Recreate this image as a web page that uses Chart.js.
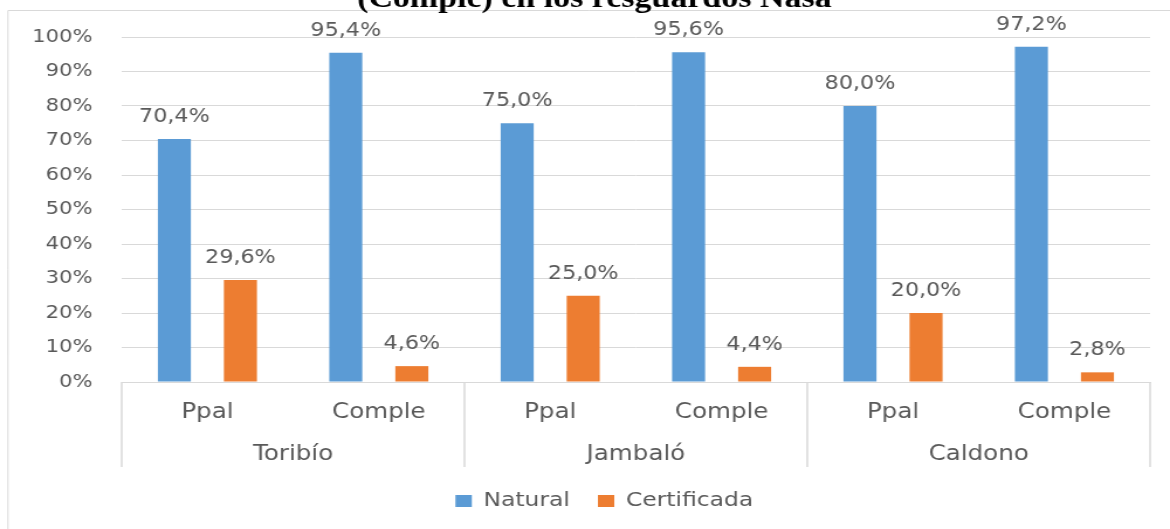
<!DOCTYPE html>
<html>
<head>
<meta charset="utf-8">
<script src="https://cdn.jsdelivr.net/npm/chart.js@4.4.0/dist/chart.umd.min.js"></script>
<style>
  html, body { margin: 0; padding: 0; background: #fff; overflow: hidden; }
  /* the source picture is stretched sideways, so the canvas is too */
  #chart { display: block; transform: scaleX(1.17); transform-origin: 0 0; }
</style>
</head>
<body>
<canvas id="chart" width="1000" height="529"></canvas>
<script>
// --- data ---
const subLabels = ['Ppal', 'Comple', 'Ppal', 'Comple', 'Ppal', 'Comple'];
const groupLabels = ['Toribío', 'Jambaló', 'Caldono'];
const naturalValues = [70.4, 95.4, 75.0, 95.6, 80.0, 97.2];
const certificadaValues = [29.6, 4.6, 25.0, 4.4, 20.0, 2.8];
const titleText = '(Comple) en los resguardos Nasa';

const TEXT = '#595959';
const LINE = '#d9d9d9';
const FONT = '"DejaVu Sans", Verdana, sans-serif';

const fmt = (v) => v.toFixed(1).replace('.', ',') + '%';

// draws frame, clipped title, bar values and the second level of the x axis
const excelBits = {
    id: 'excelBits',
    afterLayout(chart) {
        // push the legend a bit to the right, like the original
        chart.legend.left += 25;
        chart.legend.right += 25;
    },
    beforeDraw(chart) {
        const ctx = chart.ctx;
        ctx.save();
        ctx.strokeStyle = LINE;
        ctx.lineWidth = 1;
        ctx.beginPath();
        ctx.moveTo(6.8, 529);
        ctx.lineTo(6.8, 10.5);
        ctx.lineTo(1000, 10.5);
        ctx.stroke();

        ctx.fillStyle = '#000';
        ctx.font = 'bold 29px "Liberation Serif", "Times New Roman", serif';
        ctx.textAlign = 'center';
        ctx.textBaseline = 'alphabetic';
        ctx.fillText(titleText, 508, 7);
        ctx.restore();
    },
    afterDatasetsDraw(chart) {
        const ctx = chart.ctx;
        ctx.save();
        ctx.fillStyle = TEXT;
        ctx.font = '19px ' + FONT;
        ctx.textAlign = 'center';
        ctx.textBaseline = 'alphabetic';
        [0, 2].forEach((i) => {
            const ds = chart.data.datasets[i];
            chart.getDatasetMeta(i).data.forEach((bar, j) => {
                ctx.fillText(fmt(ds.data[j]), bar.x, bar.y - 17);
            });
        });
        ctx.restore();
    },
    afterDraw(chart) {
        const ctx = chart.ctx;
        const x = chart.scales.x;
        const area = chart.chartArea;
        const bottom = area.bottom + 85;
        const edges = [area.left];
        for (let g = 1; g < groupLabels.length; g++) {
            edges.push((x.getPixelForTick(g * 2 - 1) + x.getPixelForTick(g * 2)) / 2);
        }
        edges.push(area.right);

        ctx.save();
        ctx.strokeStyle = LINE;
        ctx.lineWidth = 1.5;
        ctx.beginPath();
        edges.forEach((ex) => {
            ctx.moveTo(ex, area.bottom);
            ctx.lineTo(ex, bottom);
        });
        ctx.stroke();

        ctx.fillStyle = TEXT;
        ctx.font = '21px ' + FONT;
        ctx.textAlign = 'center';
        ctx.textBaseline = 'alphabetic';
        groupLabels.forEach((name, g) => {
            ctx.fillText(name, (edges[g] + edges[g + 1]) / 2, 460);
        });
        ctx.restore();
    }
};

new Chart(document.getElementById('chart'), {
    type: 'bar',
    data: {
        labels: subLabels,
        datasets: [
            { label: 'Natural', data: naturalValues, backgroundColor: '#5B9BD5' },
            { label: 'gap', data: subLabels.map(() => null), backgroundColor: 'rgba(0,0,0,0)' },
            { label: 'Certificada', data: certificadaValues, backgroundColor: '#ED7D31' }
        ]
    },
    options: {
        responsive: false,
        devicePixelRatio: 1,
        animation: false,
        categoryPercentage: 0.578,
        barPercentage: 1,
        layout: { padding: { top: 37, right: 17, bottom: 8, left: 0 } },
        scales: {
            x: {
                grid: { display: false, drawTicks: false },
                border: { display: true, color: LINE, width: 1 },
                ticks: { color: TEXT, font: { family: FONT, size: 21 }, padding: 18, maxRotation: 0 },
                afterFit: (scale) => { scale.height = 85; }
            },
            y: {
                min: 0,
                max: 100,
                grid: { color: LINE, lineWidth: 1, drawTicks: false },
                border: { display: false },
                ticks: {
                    stepSize: 10,
                    color: TEXT,
                    font: { family: FONT, size: 18 },
                    padding: 25,
                    callback: (v) => v + '%'
                },
                afterFit: (scale) => { scale.width = 104; }
            }
        },
        plugins: {
            title: { display: false },
            tooltip: { enabled: false },
            legend: {
                position: 'bottom',
                labels: {
                    color: TEXT,
                    font: { family: FONT, size: 20 },
                    boxWidth: 14,
                    boxHeight: 12,
                    padding: 24,
                    filter: (item) => item.text !== 'gap'
                }
            }
        }
    },
    plugins: [excelBits]
});
</script>
</body>
</html>
